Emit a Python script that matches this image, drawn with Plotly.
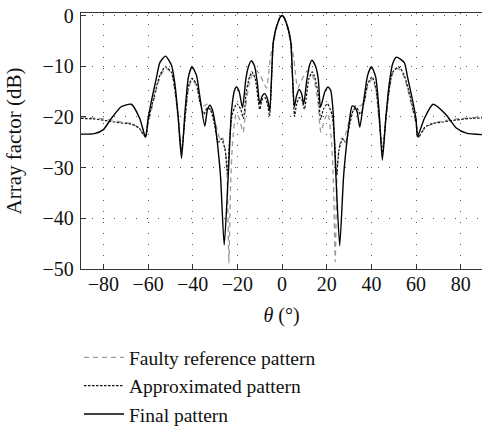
import plotly.graph_objects as go

# ---- data (theta in degrees, array factor in dB) ----
theta_faulty = [-90, -84, -78, -72, -67.5, -64, -61.1, -60, -58.4, -56.2, -54.5, -52, -49.5, -48, -46.5,
                -45, -43.4, -41.9, -40.2, -38.3, -36.8, -35, -33.5, -32, -30.5, -29, -27.6, -26.6, -25.3,
                -24.5, -23.8, -23, -22, -20.5, -19, -17.4, -16, -14.5, -13, -11.5, -10, -8.5, -7, -6,
                -5.2, -4.2, -3, -2, -1, 0,
                1, 2, 3, 4.2, 5.2, 6, 7, 8.5, 10, 11.5, 13, 14.5, 16, 17.4, 19, 20.5, 22, 23, 23.8, 24.5,
                25.3, 26.6, 27.6, 29, 30.5, 32, 33.5, 35, 36.8, 38.3, 40.2, 41.9, 43.4, 45, 46.5, 48,
                49.5, 52, 54.5, 56.2, 58.4, 60, 61.1, 64, 67.5, 72, 78, 84, 90]
af_faulty = [-20.0, -20.2, -20.5, -21.0, -21.3, -22.2, -24.0, -21.5, -18.5, -14.5, -12.0, -10.4, -11.4, -14.8, -20.5,
             -26.0, -20.5, -14.5, -12.6, -14.0, -17.0, -17.8, -17.5, -18.6, -20.2, -22.5, -24.6, -24.2, -27.0,
             -33.0, -48.8, -33.0, -24.0, -19.3, -20.5, -23.0, -17.0, -13.0, -11.3, -10.8, -11.6, -13.0, -14.3, -11.5,
             -8.2, -6.0, -3.6, -1.8, -0.5, 0.0,
             -0.5, -1.8, -3.6, -6.0, -8.2, -11.5, -14.3, -13.0, -11.6, -10.8, -11.3, -13.0, -17.0, -23.0, -20.5, -19.3, -24.0, -33.0, -48.6, -33.0,
             -27.0, -24.2, -24.6, -22.5, -20.2, -18.6, -17.5, -17.8, -17.0, -14.0, -12.6, -14.5, -20.5, -26.0, -20.5, -14.8,
             -11.4, -10.4, -12.0, -14.5, -18.5, -21.5, -24.0, -22.2, -21.3, -20.8, -20.4, -20.2, -20.0]

theta_approx = [-90, -84, -78, -72, -67.5, -64, -61.1, -60, -58.4, -56.2, -54.5, -52.2, -49.5, -48, -46.5,
                -45, -43.4, -41.9, -40.3, -38.3, -36.8, -35, -33.5, -32, -30.5, -28.5, -27.1, -25.5, -24.4,
                -23.5, -22.3, -20.3, -18.5, -17.3, -16, -14.5, -13.5, -12, -10, -8.8, -7.7, -6.5, -5.6,
                -4.7, -4, -3.3, -2.5, -1.8, -1, 0,
                1, 1.8, 2.5, 3.3, 4, 4.7, 5.6, 6.5, 7.7, 8.8, 10, 12, 13.5, 14.5, 16, 17.3, 18.5, 20.3,
                22.3, 23.5, 24.4, 25.5, 27.1, 28.5, 30.5, 32, 33.5, 35, 36.8, 38.3, 40.3, 41.9, 43.4, 45,
                46.5, 48, 49.5, 52.2, 54.5, 56.2, 58.4, 60, 61.1, 64, 67.5, 72, 78, 84, 90]
af_approx = [-20.3, -20.4, -20.8, -21.2, -21.4, -22.2, -24.0, -21.0, -18.0, -14.0, -11.6, -10.1, -11.2, -14.5, -20.0,
             -27.0, -20.0, -14.0, -12.4, -13.5, -17.0, -19.5, -18.2, -18.6, -21.0, -25.0, -24.3, -26.5, -31.2,
             -24.5, -19.5, -17.4, -18.5, -20.3, -15.0, -12.0, -11.1, -12.5, -18.5, -16.5, -16.2, -17.5, -19.9,
             -12.5, -6.0, -3.8, -2.3, -1.4, -0.5, 0.0,
             -0.5, -1.4, -2.3, -3.8, -6.0, -12.5, -19.9, -17.5, -16.2, -16.5, -18.5, -12.5, -11.1, -12.0, -15.0, -20.5, -18.5, -17.4,
             -19.5, -24.5, -31.5, -26.5, -24.3, -25.0, -21.0, -18.6, -18.2, -19.5, -17.0, -13.5, -12.1, -14.0, -20.0, -27.0,
             -20.0, -14.5, -11.2, -10.1, -11.6, -14.0, -18.0, -21.0, -24.0, -22.0, -21.3, -21.0, -20.6, -20.3, -20.2]

theta_final = [-90, -84, -80, -76.4, -72, -67.5, -63.7, -61.1, -60, -58.4, -56.2, -54.7, -52.2, -49.5, -48,
               -46.5, -45, -43.4, -41.9, -40.3, -38.3, -36.8, -34.6, -33.4, -32.3, -31.2, -30, -28.5, -27.5,
               -25.9, -24.2, -22.6, -21.3, -20.4, -19.2, -17.7, -16.2, -15, -13.7, -12.3, -11, -10, -8.8,
               -7.7, -6.5, -5.5, -4.7, -4, -3.3, -2.5, -1.8, -1, 0,
               1, 1.8, 2.5, 3.3, 4, 4.7, 5.5, 6.5, 7.6, 8.8, 9.7, 11, 12.3, 13.4, 15, 16.2, 17.2, 19.2,
               20.6, 21.8, 22.8, 24.2, 25.8, 27.5, 28.5, 30, 31.3, 32.3, 33.6, 34.8, 36.8, 38.3, 40, 41.9,
               43.4, 44.9, 46.5, 48, 49.5, 51.2, 54.7, 56.2, 58.4, 60, 60.6, 63.7, 67.6, 73.5, 78, 82.5, 90]
af_final = [-23.4, -23.3, -22.5, -20.3, -18.0, -17.5, -20.3, -24.0, -20.5, -16.7, -12.2, -9.3, -8.0, -9.8, -13.4,
            -20.0, -28.2, -18.7, -12.1, -10.1, -11.8, -16.0, -21.8, -18.6, -17.7, -18.6, -21.3, -27.0, -32.0,
            -45.3, -32.5, -18.7, -14.8, -14.1, -15.0, -18.2, -12.5, -10.0, -8.9, -10.0, -13.5, -17.4, -15.8,
            -15.4, -16.5, -18.7, -12.1, -5.5, -3.6, -2.2, -1.3, -0.4, 0.0,
            -0.4, -1.3, -2.2, -3.6, -5.5, -12.1, -18.0, -15.8, -14.6, -15.5, -17.5, -13.0, -9.8, -8.8, -10.0, -12.5, -18.1, -15.0,
            -14.1, -14.8, -18.7, -32.5, -45.4, -32.0, -27.0, -21.3, -17.9, -17.9, -19.0, -22.0, -16.0, -11.8, -10.1, -12.1,
            -18.7, -28.5, -20.0, -13.4, -9.5, -8.2, -9.3, -12.2, -16.7, -20.5, -23.9, -20.3, -17.5, -19.6, -22.2, -23.2, -23.5]

x_ticks = [-80, -60, -40, -20, 0, 20, 40, 60, 80]
y_ticks = [0, -10, -20, -30, -40, -50]

FONT = "Liberation Serif, Times New Roman, serif"

fig = go.Figure()
fig.add_trace(go.Scatter(x=theta_faulty, y=af_faulty, mode="lines", name="Faulty reference pattern",
                         line=dict(color="#9a9a9a", width=1.3, dash="5px,4px", shape="spline", smoothing=0.6)))
fig.add_trace(go.Scatter(x=theta_approx, y=af_approx, mode="lines", name="Approximated pattern",
                         line=dict(color="#111111", width=1.2, dash="2.5px,1.5px", shape="spline", smoothing=0.6)))
fig.add_trace(go.Scatter(x=theta_final, y=af_final, mode="lines", name="Final pattern",
                         line=dict(color="#000000", width=1.4, shape="spline", smoothing=0.6)))

fig.update_layout(
    width=482, height=426,
    margin=dict(l=81, r=0, t=13, b=157, autoexpand=False),
    paper_bgcolor="white", plot_bgcolor="white",
    font=dict(family=FONT, size=20, color="#111"),
    showlegend=True,
    legend=dict(x=-0.005, y=-0.27, xanchor="left", yanchor="top",
                font=dict(family=FONT, size=19.5, color="#111"),
                traceorder="normal", itemwidth=40,
                bgcolor="rgba(0,0,0,0)"),
)
fig.update_xaxes(range=[-90, 89.5], tickvals=x_ticks, ticks="inside", ticklen=5, tickcolor="#333",
                 showline=True, linecolor="#333", linewidth=1.3, mirror=True,
                 showgrid=True, gridcolor="#555", gridwidth=1, griddash="1px,10px",
                 zeroline=False, tickfont=dict(family=FONT, size=20), ticklabelstandoff=-3,
                 title=dict(text="<i>θ</i> (°)", font=dict(family=FONT, size=20), standoff=13))
fig.update_yaxes(range=[-50, 0.5], tickvals=y_ticks, ticks="inside", ticklen=5, tickcolor="#333",
                 showline=True, linecolor="#333", linewidth=1.3, mirror=False,
                 showgrid=True, gridcolor="#555", gridwidth=1, griddash="1px,10px",
                 zeroline=False, tickfont=dict(family=FONT, size=20), ticklabelstandoff=2,
                 title=dict(text="Array factor (dB)", font=dict(family=FONT, size=21), standoff=15))

fig.write_html("out.html")
